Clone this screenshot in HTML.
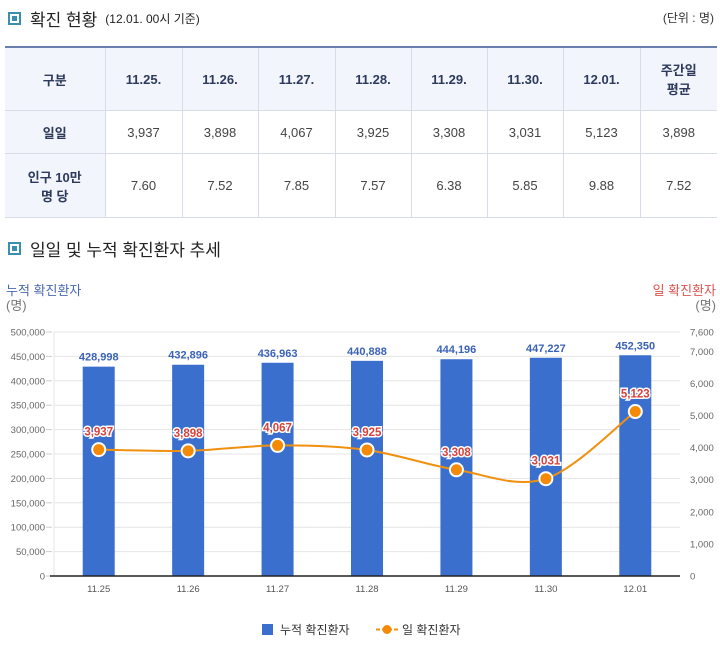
<!DOCTYPE html>
<html><head><meta charset="utf-8"><style>
body{margin:0;width:720px;height:650px;background:#fff;font-family:"Liberation Sans","Noto Sans CJK KR",sans-serif;position:relative;overflow:hidden}
.h{position:absolute;left:8px;font-size:17px;color:#222;display:flex;align-items:center}
.h i{display:inline-block;width:9px;height:9px;border:2px solid #3a8fb0;background:#fff;box-shadow:inset 0 0 0 2px #fff;margin-right:9px;background:#3a8fb0}
table{position:absolute;left:5px;top:46px;width:712px;border-collapse:collapse;font-size:13px;color:#444;table-layout:fixed}
td{border:1px solid #d8dce6;text-align:center;padding:0}
tr:first-child td{border-top:2px solid #6a7fae;background:#f2f5fb;font-weight:bold;color:#2e3a5c;height:62px}
td:first-child{background:#f2f5fb;font-weight:bold;color:#2e3a5c;border-left:none}
td:last-child{border-right:none}
</style></head><body>
<div class="h" style="top:6px"><i></i>확진 현황 <span style="font-size:12px;margin-left:8px">(12.01. 00시 기준)</span></div>
<div style="position:absolute;right:6px;top:9px;font-size:12px;color:#333">(단위 : 명)</div>
<table>
<colgroup><col style="width:100px"><col style="width:77px"><col style="width:76px"><col style="width:77px"><col style="width:76px"><col style="width:76px"><col style="width:76px"><col style="width:77px"><col></colgroup>
<tr><td>구분</td><td>11.25.</td><td>11.26.</td><td>11.27.</td><td>11.28.</td><td>11.29.</td><td>11.30.</td><td>12.01.</td><td>주간일<br>평균</td></tr>
<tr style="height:43px"><td>일일</td><td>3,937</td><td>3,898</td><td>4,067</td><td>3,925</td><td>3,308</td><td>3,031</td><td>5,123</td><td>3,898</td></tr>
<tr style="height:64px"><td>인구 10만<br>명 당</td><td>7.60</td><td>7.52</td><td>7.85</td><td>7.57</td><td>6.38</td><td>5.85</td><td>9.88</td><td>7.52</td></tr>
</table>
<div class="h" style="top:236px"><i></i>일일 및 누적 확진환자 추세</div>
<svg id="c" width="720" height="650" style="position:absolute;left:0;top:0"></svg>
<script>
const categories=["11.25","11.26","11.27","11.28","11.29","11.30","12.01"];
const cumulative=[428998,432896,436963,440888,444196,447227,452350];
const daily=[3937,3898,4067,3925,3308,3031,5123];
const leftTicks=[0,50000,100000,150000,200000,250000,300000,350000,400000,450000,500000];
const rightTicks=[0,1000,2000,3000,4000,5000,6000,7000,7600];
const X0=54,X1=680,Y0=576,Y1=332,LMAX=500000,RMAX=7600;
const svg=document.getElementById('c');const NS='http://www.w3.org/2000/svg';
function el(t,a,txt){const e=document.createElementNS(NS,t);for(const k in a)e.setAttribute(k,a[k]);if(txt!=null)e.textContent=txt;svg.appendChild(e);return e;}
const bw=(X1-X0)/categories.length;
const xs=i=>X0+bw*(i+0.5);
const yl=v=>Y0-(Y0-Y1)*v/LMAX;
const yr=v=>Y0-(Y0-Y1)*v/RMAX;
const fmt=v=>v.toLocaleString('en-US');
let t=el('text',{x:6,y:295,'font-size':13,fill:'#4a68b0'},'누적 확진환자');
el('text',{x:6,y:310,'font-size':13,fill:'#777'},'(명)');
t=el('text',{x:716,y:295,'font-size':13,fill:'#d9534f','text-anchor':'end'},'일 확진환자');
el('text',{x:716,y:310,'font-size':13,fill:'#777','text-anchor':'end'},'(명)');
leftTicks.forEach(v=>{const y=yl(v);
 const g=el('line',{x1:X0,x2:X1,y1:y,y2:y,stroke:'#e4e4e4'});
 const l=el('text',{x:45,y:y+3.5,'font-size':9.5,fill:'#666','text-anchor':'end'},fmt(v));
 el('line',{x1:46,x2:52,y1:y,y2:y,stroke:'#ccc'});});
el('line',{x1:X0,x2:X0,y1:Y1,y2:Y0,stroke:'#e4e4e4'});
rightTicks.forEach(v=>{const y=yr(v);const l=el('text',{x:690,y:y+3.5,'font-size':9.5,fill:'#666'},fmt(v));});
cumulative.forEach((v,i)=>{const x=xs(i);
 const b=el('rect',{x:x-16,y:yl(v),width:32,height:Y0-yl(v),fill:'#3b6fce'});
 const l=el('text',{x:x,y:yl(v)-6,'font-size':11,fill:'#3b62b8','text-anchor':'middle','font-weight':'bold'},fmt(v));
 const c=el('text',{x:x,y:592,'font-size':9.5,fill:'#555','text-anchor':'middle'},categories[i]);});
el('line',{x1:X0-4,x2:X1,y1:Y0,y2:Y0,stroke:'#222','stroke-width':1.5});
const pts=daily.map((v,i)=>[xs(i),yr(v)]);
let d='M'+pts[0][0]+','+pts[0][1];
for(let i=0;i<pts.length-1;i++){const p0=pts[Math.max(0,i-1)],p1=pts[i],p2=pts[i+1],p3=pts[Math.min(pts.length-1,i+2)];
 d+=` C${p1[0]+(p2[0]-p0[0])/6},${p1[1]+(p2[1]-p0[1])/6} ${p2[0]-(p3[0]-p1[0])/6},${p2[1]-(p3[1]-p1[1])/6} ${p2[0]},${p2[1]}`;}
const ln=el('path',{d:d,fill:'none',stroke:'#f0900f','stroke-width':2});
daily.forEach((v,i)=>{const [x,y]=pts[i];
 const p=el('circle',{cx:x,cy:y,r:6.5,fill:'#f58a07',stroke:'#fff','stroke-width':2});
 const l=el('text',{x:x,y:y-14,'font-size':11.5,fill:'#d9413b','text-anchor':'middle','font-weight':'bold',stroke:'#fff','stroke-width':3,'paint-order':'stroke'},fmt(v));});
const lg1=el('rect',{x:262,y:624,width:11,height:11,fill:'#3b6fce'});
el('text',{x:280,y:634,'font-size':12,fill:'#333'},'누적 확진환자');
const lg2=el('line',{x1:376,x2:398,y1:629.5,y2:629.5,stroke:'#f0900f','stroke-width':2,'stroke-dasharray':'4,2'});
el('circle',{cx:387,cy:629.5,r:4.5,fill:'#f58a07'});
el('text',{x:402,y:634,'font-size':12,fill:'#333'},'일 확진환자');
</script>
</body></html>
